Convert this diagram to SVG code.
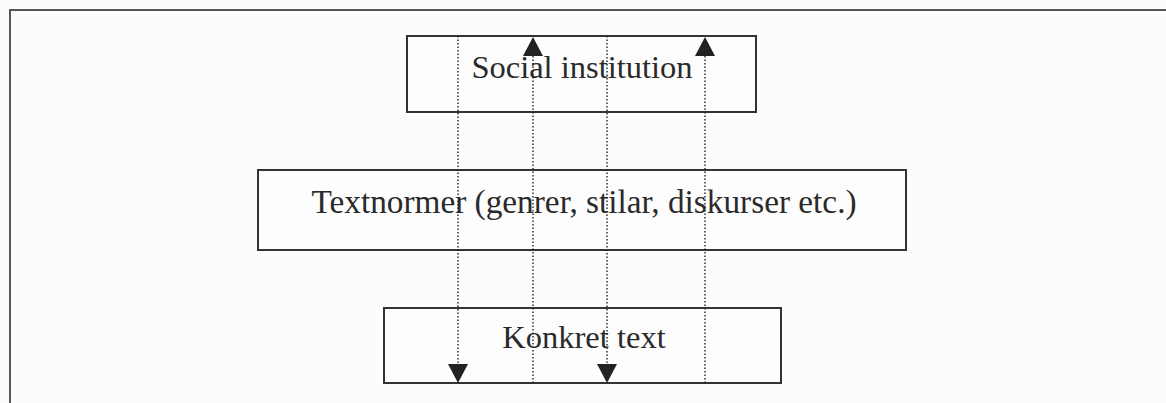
<svg xmlns="http://www.w3.org/2000/svg" width="1166" height="403" viewBox="0 0 1166 403">
  <style>
    .box { fill: #fdfdfd; stroke: #333; stroke-width: 2; }
    .lbl { font-family: "Liberation Serif", "Times New Roman", serif; font-size: 32.5px; fill: #2a2a2a; text-anchor: middle; }
    .conn { stroke: #222; stroke-width: 1.4; stroke-dasharray: 1.5 2; fill: none; }
  </style>
  <defs>
    <marker id="arr" markerUnits="userSpaceOnUse" markerWidth="20" markerHeight="20" refX="19" refY="10" orient="auto">
      <path d="M0,0 L19,10 L0,20 z" fill="#222"/>
    </marker>
  </defs>
  <rect x="0" y="0" width="1166" height="403" fill="#fcfcfc"/>
  <g id="frame">
    <path d="M10,403 L10,10 L1166,10" fill="none" stroke="#555" stroke-width="2"/>
  </g>
  <g id="social">
    <rect class="box" x="407" y="36" width="349" height="76"/>
    <text class="lbl" x="582" y="78">Social institution</text>
  </g>
  <g id="textnormer">
    <rect class="box" x="258" y="170" width="648" height="80"/>
    <text class="lbl" x="584" y="213" style="font-size:33.3px">Textnormer (genrer, stilar, diskurser etc.)</text>
  </g>
  <g id="konkret">
    <rect class="box" x="384" y="308" width="397" height="75"/>
    <text class="lbl" x="584" y="348">Konkret text</text>
  </g>
  <g id="connectors">
    <line class="conn" x1="458" y1="36" x2="458" y2="383" marker-end="url(#arr)"/>
    <line class="conn" x1="533" y1="383" x2="533" y2="37" marker-end="url(#arr)"/>
    <line class="conn" x1="607" y1="36" x2="607" y2="383" marker-end="url(#arr)"/>
    <line class="conn" x1="705" y1="383" x2="705" y2="37" marker-end="url(#arr)"/>
  </g>
</svg>
